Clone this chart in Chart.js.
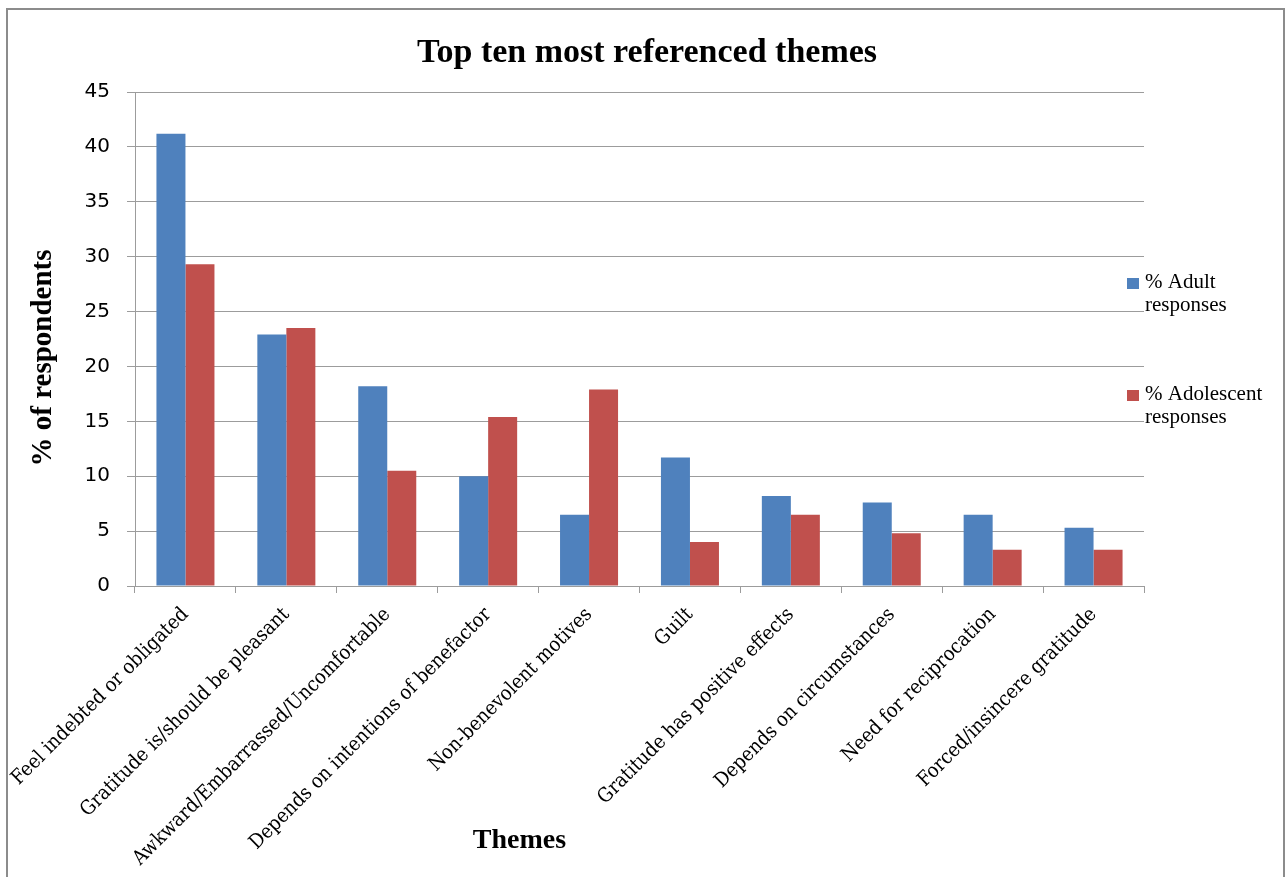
<!DOCTYPE html>
<html>
<head>
<meta charset="utf-8">
<script src="https://cdn.jsdelivr.net/npm/chart.js@4.4.1/dist/chart.umd.min.js"></script>
<style>
  html, body { margin: 0; padding: 0; background: #ffffff; }
  #wrap { width: 1288px; height: 877px; position: relative; }
  canvas { display: block; }
</style>
</head>
<body>
<div id="wrap"><canvas id="c" width="1288" height="877"></canvas></div>
<script>
// ---- data ----
const categories = [
  'Feel indebted or obligated',
  'Gratitude is/should be pleasant',
  'Awkward/Embarrassed/Uncomfortable',
  'Depends on intentions of benefactor',
  'Non-benevolent motives',
  'Guilt',
  'Gratitude has positive effects',
  'Depends on circumstances',
  'Need for reciprocation',
  'Forced/insincere gratitude'
];
const adultValues = [41.2, 22.9, 18.2, 10.0, 6.5, 11.7, 8.2, 7.6, 6.5, 5.3];
const adolescentValues = [29.3, 23.5, 10.5, 15.4, 17.9, 4.0, 6.5, 4.8, 3.3, 3.3];
const seriesNames = ['% Adult responses', '% Adolescent responses'];
const legendLines = [['% Adult', 'responses'], ['% Adolescent', 'responses']];
const yMin = 0, yMax = 45, yStep = 5;
const chartTitle = 'Top ten most referenced themes';
const xTitle = 'Themes';
const yTitle = '% of respondents';

// ---- styles ----
const BLUE = '#4F81BD';
const RED = '#C0504D';
const GRID = '#9c9c9c';
const SERIF = '"Liberation Serif", "Times New Roman", serif';
const SANS = '"DejaVu Sans", sans-serif';

// pick a condensed serif for the category labels if one is installed
function pickLabelFont() {
  const c = document.createElement('canvas').getContext('2d');
  const s = 'Feel indebted or obligated';
  c.font = '20px monospace';
  const mono = c.measureText(s).width;
  c.font = '20px "DejaVu Serif Condensed", monospace';
  const cond = c.measureText(s).width;
  if (Math.abs(cond - mono) > 0.5) {
    return { family: '"DejaVu Serif Condensed", serif', size: 20 };
  }
  return { family: SERIF, size: 23 };
}
const labelFont = pickLabelFont();

const decorPlugin = {
  id: 'decor',
  beforeDraw(chart) {
    const ctx = chart.ctx;
    ctx.save();
    ctx.fillStyle = '#ffffff';
    ctx.fillRect(0, 0, chart.width, chart.height);
    ctx.restore();
  },
  afterDraw(chart) {
    const ctx = chart.ctx;
    const area = chart.chartArea;
    ctx.save();
    // outer border
    ctx.strokeStyle = '#8c8c8c';
    ctx.lineWidth = 2;
    ctx.strokeRect(7, 9, 1277, 900);

    ctx.fillStyle = '#000000';
    // main title
    ctx.font = 'bold 34px ' + SERIF;
    ctx.textAlign = 'center';
    ctx.textBaseline = 'alphabetic';
    ctx.fillText(chartTitle, 647, 62);

    // x axis title (offset as in reference)
    ctx.font = 'bold 28px ' + SERIF;
    ctx.fillText(xTitle, area.left + (area.right - area.left) * 0.381, 848);

    // y axis title
    ctx.save();
    ctx.translate(44, 358);
    ctx.rotate(-Math.PI / 2);
    ctx.font = 'bold 29px ' + SERIF;
    ctx.textAlign = 'center';
    ctx.textBaseline = 'middle';
    ctx.fillText(yTitle, 0, 0);
    ctx.restore();

    // legend
    const items = [
      { y: 288, color: chart.data.datasets[0].backgroundColor, lines: legendLines[0] },
      { y: 400, color: chart.data.datasets[1].backgroundColor, lines: legendLines[1] }
    ];
    ctx.font = '21px ' + SERIF;
    ctx.textAlign = 'left';
    ctx.textBaseline = 'alphabetic';
    items.forEach(it => {
      ctx.fillStyle = it.color;
      ctx.fillRect(1127, it.y - 10, 12, 11);
      ctx.fillStyle = '#000000';
      it.lines.forEach((ln, i) => ctx.fillText(ln, 1145, it.y + i * 23));
    });
    ctx.restore();
  }
};

new Chart(document.getElementById('c'), {
  type: 'bar',
  data: {
    labels: categories,
    datasets: [
      { label: seriesNames[0], data: adultValues, backgroundColor: BLUE,
        categoryPercentage: 0.575, barPercentage: 1.0 },
      { label: seriesNames[1], data: adolescentValues, backgroundColor: RED,
        categoryPercentage: 0.575, barPercentage: 1.0 }
    ]
  },
  options: {
    responsive: false,
    animation: false,
    devicePixelRatio: 1,
    layout: { padding: { left: 0, right: 144, top: 92, bottom: 0 } },
    plugins: {
      legend: { display: false },
      title: { display: false },
      tooltip: { enabled: false }
    },
    scales: {
      x: {
        offset: true,
        grid: { display: true, drawOnChartArea: false, drawTicks: true, tickLength: 7, color: GRID, offset: true },
        border: { display: true, color: GRID, width: 1 },
        ticks: {
          autoSkip: false, minRotation: 45, maxRotation: 45,
          padding: 10, labelOffset: 0,
          color: '#000000',
          font: labelFont
        },
        afterFit(s) { s.height = 291; s.paddingLeft = 0; s.paddingRight = 0; }
      },
      y: {
        min: yMin, max: yMax,
        grid: { color: GRID, tickLength: 8, drawTicks: true },
        border: { display: true, color: GRID, width: 1 },
        ticks: {
          stepSize: yStep, padding: 17, color: '#000000',
          font: { family: SANS, size: 20 }
        },
        afterFit(s) { s.width = 135; s.paddingTop = 0; s.paddingBottom = 0; }
      }
    }
  },
  plugins: [decorPlugin]
});
</script>
</body>
</html>
